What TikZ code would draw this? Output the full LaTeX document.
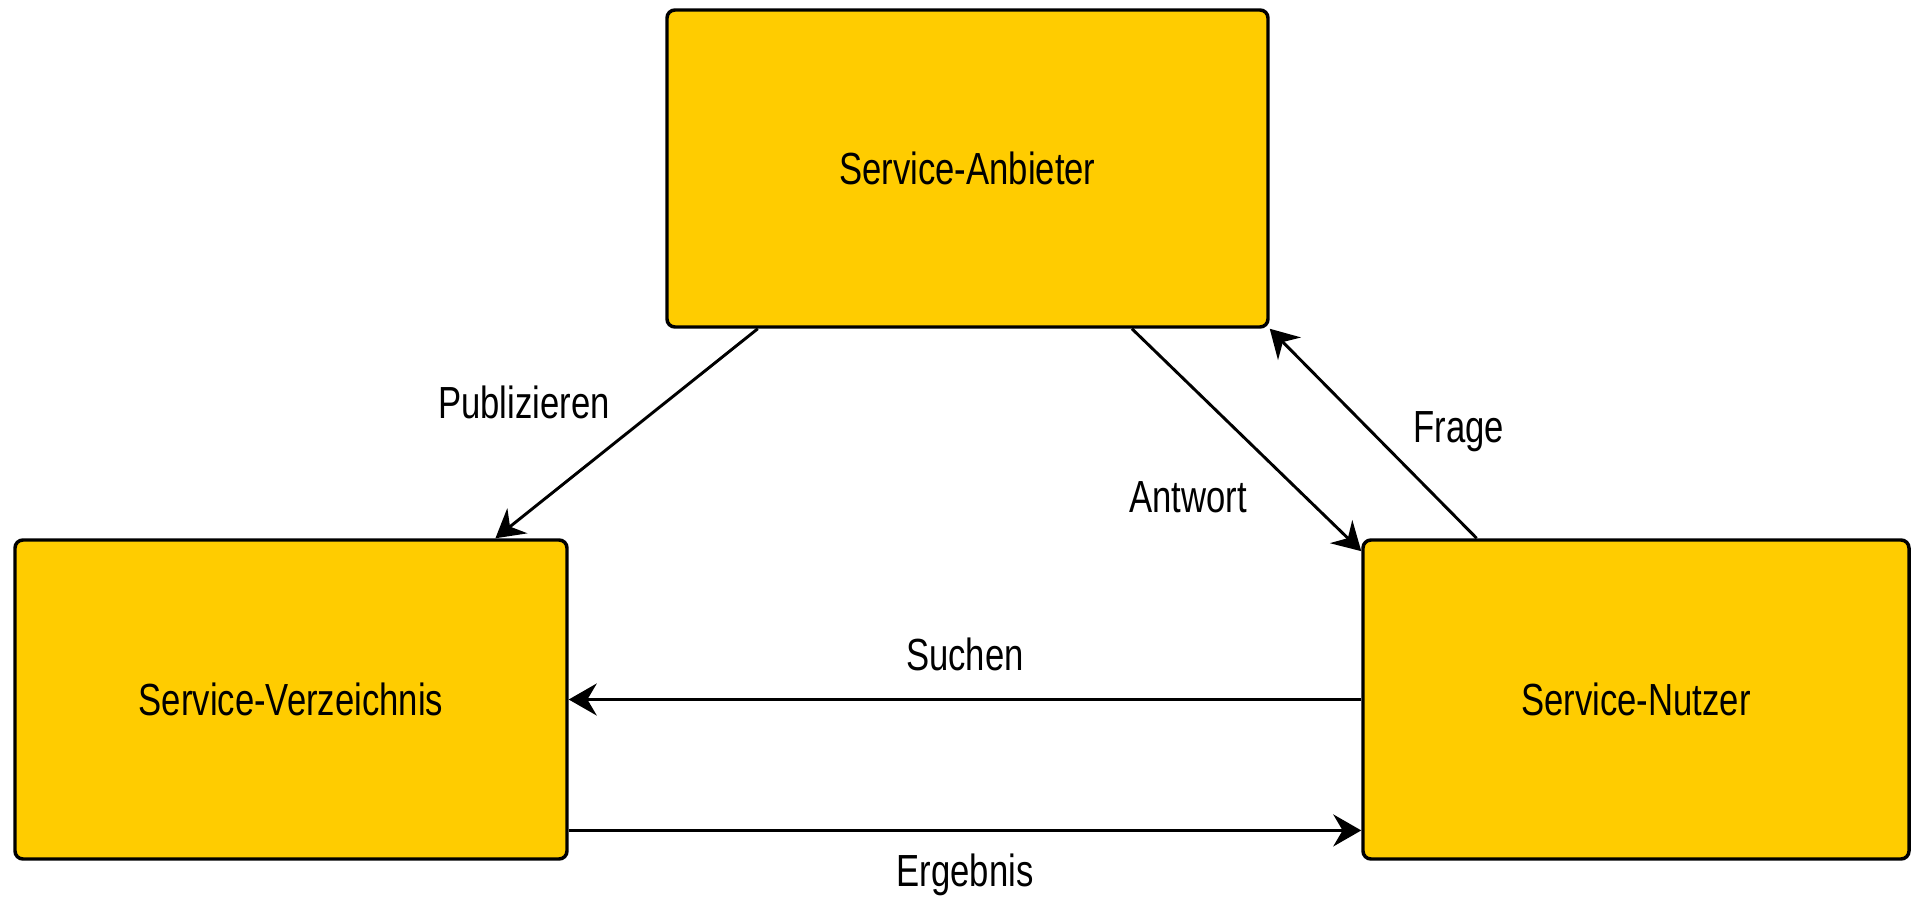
\documentclass[tikz,border=0pt]{standalone}
\usepackage{fontspec}
\setmainfont{Liberation Sans}[FakeStretch=0.77]
\usetikzlibrary{arrows.meta,calc}
\definecolor{boxfill}{HTML}{FFCC00}
\begin{document}
\begin{tikzpicture}[x=0.75pt,y=-0.75pt,
  box/.style={draw=black, line width=2.6pt, fill=boxfill, rounded corners=6pt, inner sep=0pt,
    font=\fontsize{33.75}{40}\selectfont},
  conn/.style={line width=2.2pt, -{Stealth[length=21pt,width=24pt,inset=7pt]}},
  lbl/.style={font=\fontsize{33.75}{40}\selectfont, inner sep=0pt}]
\useasboundingbox (0,0) rectangle (1911,897);
\node[box, minimum width=450.75pt, minimum height=237.75pt] (anb) at (967.5,168.5) {Service-Anbieter};
\node[box, minimum width=414pt, minimum height=239.25pt] (verz) at (291,699.5) {Service-Verzeichnis};
\node[box, minimum width=409.5pt, minimum height=239.25pt] (nutz) at (1636,699.5) {Service-Nutzer};

\draw[conn] ($(anb.south west)!0.153!(anb.south east)$) -- ($(verz.north west)!0.868!(verz.north east)$);
\draw[conn] ($(anb.south west)!0.772!(anb.south east)$) -- ($(nutz.north west)!0.04!(nutz.south west)$);
\draw[conn] ($(nutz.north west)!0.21!(nutz.north east)$) -- (anb.south east);
\draw[conn] (nutz.west) -- (verz.east);
\draw[conn] ($(verz.north east)!0.906!(verz.south east)$) -- ($(nutz.north west)!0.906!(nutz.south west)$);

\node[lbl] (lpub) at (524,402) {Publizieren};
\node[lbl] (lant) at (1188,497) {Antwort};
\node[lbl] (lfra) at (1459,432) {Frage};
\node[lbl] (lsuc) at (965,654) {Suchen};
\node[lbl] (lerg) at (965,875) {Ergebnis};
\end{tikzpicture}
\end{document}
